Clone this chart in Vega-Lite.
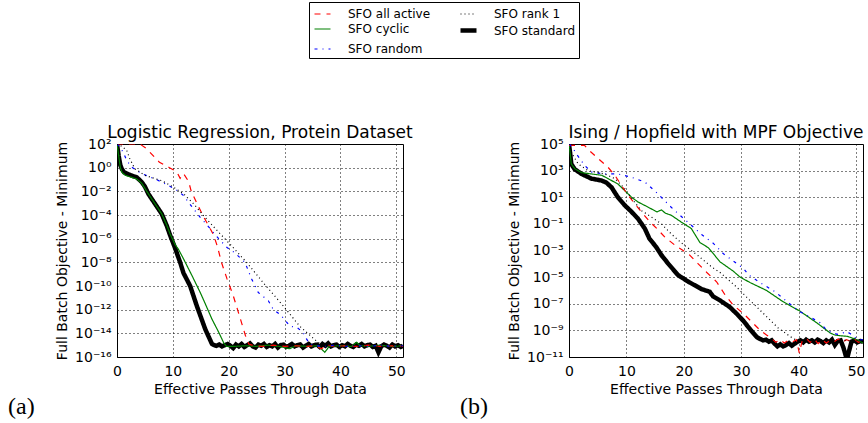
{
  "$schema": "https://vega.github.io/schema/vega-lite/v6.json",
  "padding": {"left": 8, "top": 1, "right": 2, "bottom": 2},
  "background": "white",
  "config": {
    "font": "DejaVu Sans",
    "view": {"stroke": "black", "strokeWidth": 1},
    "axis": {"grid": true, "gridColor": "black", "gridDash": [1, 3], "gridOpacity": 1, "gridWidth": 1, "domain": false, "ticks": false, "labelColor": "black", "labelFontSize": 14, "labelFont": "DejaVu Sans", "titleColor": "black", "titleFontSize": 14, "titleFontWeight": "normal", "titleFont": "DejaVu Sans", "labelFlush": false, "labelOverlap": false},
    "axisX": {"labelPadding": 7, "titlePadding": 4},
    "axisY": {"labelPadding": 6, "titlePadding": 5},
    "title": {"font": "DejaVu Sans", "fontSize": 17, "fontWeight": "normal", "color": "black"},
    "legend": {"orient": "none", "legendX": 192, "legendY": -142, "columns": 2, "symbolType": "stroke", "symbolSize": 256, "labelFontSize": 12, "labelFont": "DejaVu Sans", "labelColor": "black", "labelOffset": 15, "columnPadding": 20, "rowPadding": 0, "padding": 3, "strokeColor": "black", "fillColor": "white", "cornerRadius": 0, "labelLimit": 0}
  },
  "datasets": {
    "curves": [
      {"p":"a","s":"SFO standard","x":0,"y":100},{"p":"a","s":"SFO standard","x":0.3,"y":10},{"p":"a","s":"SFO standard","x":0.6,"y":1.58},{"p":"a","s":"SFO standard","x":0.9,"y":0.708},{"p":"a","s":"SFO standard","x":1.3,"y":0.398},{"p":"a","s":"SFO standard","x":2.0,"y":0.282},{"p":"a","s":"SFO standard","x":2.8,"y":0.2},{"p":"a","s":"SFO standard","x":3.5,"y":0.158},{"p":"a","s":"SFO standard","x":4.4,"y":0.0631},{"p":"a","s":"SFO standard","x":5.0,"y":0.0251},{"p":"a","s":"SFO standard","x":5.6,"y":0.00631},{"p":"a","s":"SFO standard","x":6.8,"y":8.91e-4},{"p":"a","s":"SFO standard","x":8.0,"y":1.26e-4},{"p":"a","s":"SFO standard","x":8.9,"y":1.26e-5},{"p":"a","s":"SFO standard","x":9.5,"y":2.0e-6},{"p":"a","s":"SFO standard","x":10.4,"y":1.58e-7},{"p":"a","s":"SFO standard","x":11.3,"y":1e-8},{"p":"a","s":"SFO standard","x":11.9,"y":1.26e-9},{"p":"a","s":"SFO standard","x":13.1,"y":1e-10},{"p":"a","s":"SFO standard","x":14.3,"y":2e-12},{"p":"a","s":"SFO standard","x":15.8,"y":2.24e-14},{"p":"a","s":"SFO standard","x":17.0,"y":1.26e-15},{"p":"a","s":"SFO standard","x":17.4,"y":1e-15},
      {"p":"a","s":"SFO standard","x":17.8,"y":8.91e-16},{"p":"a","s":"SFO standard","x":18.3,"y":1.12e-15},{"p":"a","s":"SFO standard","x":18.8,"y":7.94e-16},{"p":"a","s":"SFO standard","x":19.3,"y":1e-15},{"p":"a","s":"SFO standard","x":19.8,"y":1.26e-15},{"p":"a","s":"SFO standard","x":20.3,"y":8.91e-16},{"p":"a","s":"SFO standard","x":20.8,"y":5.62e-16},{"p":"a","s":"SFO standard","x":21.3,"y":1.12e-15},{"p":"a","s":"SFO standard","x":21.8,"y":7.94e-16},{"p":"a","s":"SFO standard","x":22.3,"y":1.26e-15},{"p":"a","s":"SFO standard","x":22.8,"y":7.08e-16},{"p":"a","s":"SFO standard","x":23.3,"y":1e-15},{"p":"a","s":"SFO standard","x":23.8,"y":1.41e-15},{"p":"a","s":"SFO standard","x":24.3,"y":7.94e-16},{"p":"a","s":"SFO standard","x":24.8,"y":6.31e-16},{"p":"a","s":"SFO standard","x":25.3,"y":1.12e-15},{"p":"a","s":"SFO standard","x":25.8,"y":8.91e-16},{"p":"a","s":"SFO standard","x":26.3,"y":1.26e-15},{"p":"a","s":"SFO standard","x":26.8,"y":7.08e-16},{"p":"a","s":"SFO standard","x":27.3,"y":1e-15},{"p":"a","s":"SFO standard","x":27.8,"y":7.94e-16},{"p":"a","s":"SFO standard","x":28.3,"y":1.26e-15},{"p":"a","s":"SFO standard","x":28.8,"y":6.31e-16},{"p":"a","s":"SFO standard","x":29.3,"y":1e-15},{"p":"a","s":"SFO standard","x":29.8,"y":1.12e-15},{"p":"a","s":"SFO standard","x":30.3,"y":7.08e-16},{"p":"a","s":"SFO standard","x":30.8,"y":8.91e-16},{"p":"a","s":"SFO standard","x":31.3,"y":1.26e-15},{"p":"a","s":"SFO standard","x":31.8,"y":7.94e-16},{"p":"a","s":"SFO standard","x":32.3,"y":1e-15},{"p":"a","s":"SFO standard","x":32.8,"y":1.12e-15},{"p":"a","s":"SFO standard","x":33.3,"y":6.31e-16},{"p":"a","s":"SFO standard","x":33.8,"y":8.91e-16},{"p":"a","s":"SFO standard","x":34.3,"y":1.26e-15},{"p":"a","s":"SFO standard","x":34.8,"y":7.94e-16},{"p":"a","s":"SFO standard","x":35.3,"y":1e-15},{"p":"a","s":"SFO standard","x":35.8,"y":1.12e-15},{"p":"a","s":"SFO standard","x":36.3,"y":7.08e-16},{"p":"a","s":"SFO standard","x":36.8,"y":1.26e-15},{"p":"a","s":"SFO standard","x":37.3,"y":8.91e-16},{"p":"a","s":"SFO standard","x":37.8,"y":1.41e-15},{"p":"a","s":"SFO standard","x":38.3,"y":7.94e-16},{"p":"a","s":"SFO standard","x":38.8,"y":1e-15},{"p":"a","s":"SFO standard","x":39.3,"y":1.12e-15},{"p":"a","s":"SFO standard","x":39.8,"y":7.08e-16},{"p":"a","s":"SFO standard","x":40.3,"y":1e-15},{"p":"a","s":"SFO standard","x":40.8,"y":7.94e-16},{"p":"a","s":"SFO standard","x":41.3,"y":1.26e-15},{"p":"a","s":"SFO standard","x":41.8,"y":8.91e-16},{"p":"a","s":"SFO standard","x":42.3,"y":7.08e-16},{"p":"a","s":"SFO standard","x":42.8,"y":1.12e-15},{"p":"a","s":"SFO standard","x":43.3,"y":8.91e-16},{"p":"a","s":"SFO standard","x":43.8,"y":1.26e-15},{"p":"a","s":"SFO standard","x":44.3,"y":7.94e-16},{"p":"a","s":"SFO standard","x":44.8,"y":1e-15},{"p":"a","s":"SFO standard","x":45.3,"y":1.12e-15},{"p":"a","s":"SFO standard","x":45.8,"y":7.08e-16},{"p":"a","s":"SFO standard","x":46.3,"y":8.91e-16},{"p":"a","s":"SFO standard","x":46.8,"y":2.51e-16},{"p":"a","s":"SFO standard","x":47.3,"y":7.94e-16},{"p":"a","s":"SFO standard","x":47.8,"y":1.12e-15},{"p":"a","s":"SFO standard","x":48.3,"y":8.91e-16},{"p":"a","s":"SFO standard","x":48.8,"y":6.31e-16},{"p":"a","s":"SFO standard","x":49.3,"y":1.12e-15},{"p":"a","s":"SFO standard","x":49.8,"y":7.94e-16},{"p":"a","s":"SFO standard","x":50.3,"y":1e-15},{"p":"a","s":"SFO standard","x":50.8,"y":7.08e-16},{"p":"a","s":"SFO standard","x":51.2,"y":8.91e-16},

      {"p":"a","s":"SFO cyclic","x":0,"y":100},{"p":"a","s":"SFO cyclic","x":0.3,"y":10},{"p":"a","s":"SFO cyclic","x":0.6,"y":1},{"p":"a","s":"SFO cyclic","x":0.9,"y":0.398},{"p":"a","s":"SFO cyclic","x":1.5,"y":0.224},{"p":"a","s":"SFO cyclic","x":2.5,"y":0.158},{"p":"a","s":"SFO cyclic","x":3.5,"y":0.112},{"p":"a","s":"SFO cyclic","x":4.4,"y":0.0501},{"p":"a","s":"SFO cyclic","x":5.6,"y":0.00631},{"p":"a","s":"SFO cyclic","x":6.8,"y":8.91e-4},{"p":"a","s":"SFO cyclic","x":8.0,"y":1.26e-4},{"p":"a","s":"SFO cyclic","x":8.9,"y":1.41e-5},{"p":"a","s":"SFO cyclic","x":9.5,"y":2.51e-6},{"p":"a","s":"SFO cyclic","x":10.4,"y":3.16e-7},{"p":"a","s":"SFO cyclic","x":11.0,"y":1.26e-7},{"p":"a","s":"SFO cyclic","x":11.9,"y":2.0e-8},{"p":"a","s":"SFO cyclic","x":13.4,"y":7.94e-10},{"p":"a","s":"SFO cyclic","x":14.9,"y":2.82e-11},{"p":"a","s":"SFO cyclic","x":15.8,"y":3.16e-12},{"p":"a","s":"SFO cyclic","x":17.0,"y":1.58e-13},{"p":"a","s":"SFO cyclic","x":18.2,"y":1.26e-14},{"p":"a","s":"SFO cyclic","x":19.1,"y":1.58e-15},{"p":"a","s":"SFO cyclic","x":19.6,"y":7.94e-16},{"p":"a","s":"SFO cyclic","x":21,"y":7.94e-16},{"p":"a","s":"SFO cyclic","x":23,"y":8.91e-16},{"p":"a","s":"SFO cyclic","x":25,"y":7.94e-16},{"p":"a","s":"SFO cyclic","x":27,"y":1e-15},{"p":"a","s":"SFO cyclic","x":29,"y":7.94e-16},{"p":"a","s":"SFO cyclic","x":30.9,"y":5.01e-16},{"p":"a","s":"SFO cyclic","x":32,"y":8.91e-16},{"p":"a","s":"SFO cyclic","x":34,"y":7.94e-16},{"p":"a","s":"SFO cyclic","x":36,"y":8.91e-16},{"p":"a","s":"SFO cyclic","x":37.2,"y":2.51e-16},{"p":"a","s":"SFO cyclic","x":38,"y":7.94e-16},{"p":"a","s":"SFO cyclic","x":40,"y":8.91e-16},{"p":"a","s":"SFO cyclic","x":42,"y":7.94e-16},{"p":"a","s":"SFO cyclic","x":42.9,"y":1.78e-15},{"p":"a","s":"SFO cyclic","x":43.5,"y":8.91e-16},{"p":"a","s":"SFO cyclic","x":45,"y":7.94e-16},{"p":"a","s":"SFO cyclic","x":47,"y":1e-15},{"p":"a","s":"SFO cyclic","x":49,"y":7.94e-16},{"p":"a","s":"SFO cyclic","x":51.2,"y":8.91e-16},

      {"p":"a","s":"SFO all active","x":0,"y":100},{"p":"a","s":"SFO all active","x":4.1,"y":100},{"p":"a","s":"SFO all active","x":5.3,"y":39.8},{"p":"a","s":"SFO all active","x":7.6,"y":2.82},{"p":"a","s":"SFO all active","x":9.4,"y":1},{"p":"a","s":"SFO all active","x":10.7,"y":0.447},{"p":"a","s":"SFO all active","x":11.3,"y":0.126},{"p":"a","s":"SFO all active","x":11.9,"y":0.316},{"p":"a","s":"SFO all active","x":12.8,"y":0.0708},{"p":"a","s":"SFO all active","x":13.3,"y":0.01},{"p":"a","s":"SFO all active","x":14.5,"y":6.31e-4},{"p":"a","s":"SFO all active","x":15.5,"y":7.08e-5},{"p":"a","s":"SFO all active","x":16.5,"y":1e-5},{"p":"a","s":"SFO all active","x":17.3,"y":2e-6},{"p":"a","s":"SFO all active","x":18.0,"y":2e-7},{"p":"a","s":"SFO all active","x":18.7,"y":1e-8},{"p":"a","s":"SFO all active","x":19.7,"y":3.98e-10},{"p":"a","s":"SFO all active","x":20.8,"y":1.58e-11},{"p":"a","s":"SFO all active","x":22.1,"y":1.58e-13},{"p":"a","s":"SFO all active","x":23.0,"y":6.31e-15},{"p":"a","s":"SFO all active","x":23.6,"y":1.26e-15},{"p":"a","s":"SFO all active","x":24.5,"y":8.91e-16},{"p":"a","s":"SFO all active","x":26,"y":7.94e-16},{"p":"a","s":"SFO all active","x":28,"y":1e-15},{"p":"a","s":"SFO all active","x":30,"y":7.94e-16},{"p":"a","s":"SFO all active","x":32,"y":8.91e-16},{"p":"a","s":"SFO all active","x":34,"y":7.94e-16},{"p":"a","s":"SFO all active","x":35.5,"y":8.91e-16},{"p":"a","s":"SFO all active","x":36.6,"y":5.01e-16},{"p":"a","s":"SFO all active","x":37.5,"y":1e-15},{"p":"a","s":"SFO all active","x":39,"y":7.94e-16},{"p":"a","s":"SFO all active","x":41,"y":8.91e-16},{"p":"a","s":"SFO all active","x":43,"y":7.94e-16},{"p":"a","s":"SFO all active","x":45,"y":1e-15},{"p":"a","s":"SFO all active","x":47,"y":7.94e-16},{"p":"a","s":"SFO all active","x":49,"y":8.91e-16},{"p":"a","s":"SFO all active","x":51.2,"y":7.94e-16},

      {"p":"a","s":"SFO random","x":0,"y":100},{"p":"a","s":"SFO random","x":0.6,"y":50.1},{"p":"a","s":"SFO random","x":1.1,"y":20},{"p":"a","s":"SFO random","x":1.75,"y":3.98},{"p":"a","s":"SFO random","x":2.6,"y":1.12},{"p":"a","s":"SFO random","x":4.4,"y":0.316},{"p":"a","s":"SFO random","x":6.8,"y":0.112},{"p":"a","s":"SFO random","x":8.6,"y":0.0447},{"p":"a","s":"SFO random","x":10.7,"y":0.0126},{"p":"a","s":"SFO random","x":11.9,"y":0.00447},{"p":"a","s":"SFO random","x":13.4,"y":5.01e-4},{"p":"a","s":"SFO random","x":14.9,"y":6.31e-5},{"p":"a","s":"SFO random","x":16.4,"y":1e-5},{"p":"a","s":"SFO random","x":18.2,"y":1e-6},{"p":"a","s":"SFO random","x":19.7,"y":1.78e-7},{"p":"a","s":"SFO random","x":21.1,"y":6.31e-8},{"p":"a","s":"SFO random","x":22.9,"y":1e-8},{"p":"a","s":"SFO random","x":24.1,"y":3.98e-10},{"p":"a","s":"SFO random","x":25.3,"y":2.82e-11},{"p":"a","s":"SFO random","x":27.1,"y":5.62e-12},{"p":"a","s":"SFO random","x":28.0,"y":1e-12},{"p":"a","s":"SFO random","x":29.2,"y":3.98e-13},{"p":"a","s":"SFO random","x":31.0,"y":3.98e-14},{"p":"a","s":"SFO random","x":32.2,"y":3.16e-14},{"p":"a","s":"SFO random","x":33.3,"y":1.26e-14},{"p":"a","s":"SFO random","x":33.9,"y":3.55e-15},{"p":"a","s":"SFO random","x":34.5,"y":1.26e-15},{"p":"a","s":"SFO random","x":35.5,"y":8.91e-16},{"p":"a","s":"SFO random","x":37,"y":7.94e-16},{"p":"a","s":"SFO random","x":39,"y":1e-15},{"p":"a","s":"SFO random","x":41,"y":7.94e-16},{"p":"a","s":"SFO random","x":43,"y":8.91e-16},{"p":"a","s":"SFO random","x":45,"y":7.94e-16},{"p":"a","s":"SFO random","x":47,"y":1e-15},{"p":"a","s":"SFO random","x":49,"y":7.94e-16},{"p":"a","s":"SFO random","x":51.2,"y":8.91e-16},

      {"p":"a","s":"SFO rank 1","x":0,"y":100},{"p":"a","s":"SFO rank 1","x":0.9,"y":63.1},{"p":"a","s":"SFO rank 1","x":1.75,"y":28.2},{"p":"a","s":"SFO rank 1","x":2.3,"y":5.62},{"p":"a","s":"SFO rank 1","x":3.2,"y":0.794},{"p":"a","s":"SFO rank 1","x":5.0,"y":0.224},{"p":"a","s":"SFO rank 1","x":8.0,"y":0.0794},{"p":"a","s":"SFO rank 1","x":10.1,"y":0.0224},{"p":"a","s":"SFO rank 1","x":11.9,"y":0.00631},{"p":"a","s":"SFO rank 1","x":13.7,"y":8.91e-4},{"p":"a","s":"SFO rank 1","x":15.5,"y":8.91e-5},{"p":"a","s":"SFO rank 1","x":17.6,"y":7.08e-6},{"p":"a","s":"SFO rank 1","x":19.9,"y":5.01e-7},{"p":"a","s":"SFO rank 1","x":23.2,"y":1e-8},{"p":"a","s":"SFO rank 1","x":26.5,"y":1.26e-10},{"p":"a","s":"SFO rank 1","x":29.8,"y":2e-12},{"p":"a","s":"SFO rank 1","x":32.7,"y":3.98e-14},{"p":"a","s":"SFO rank 1","x":35.7,"y":2.24e-15},{"p":"a","s":"SFO rank 1","x":36.7,"y":1e-15},{"p":"a","s":"SFO rank 1","x":38,"y":8.91e-16},{"p":"a","s":"SFO rank 1","x":40,"y":7.94e-16},{"p":"a","s":"SFO rank 1","x":42,"y":1e-15},{"p":"a","s":"SFO rank 1","x":44,"y":7.94e-16},{"p":"a","s":"SFO rank 1","x":46,"y":8.91e-16},{"p":"a","s":"SFO rank 1","x":48,"y":7.94e-16},{"p":"a","s":"SFO rank 1","x":50,"y":1e-15},{"p":"a","s":"SFO rank 1","x":51.2,"y":7.94e-16},

      {"p":"b","s":"SFO standard","x":0,"y":1e5},{"p":"b","s":"SFO standard","x":0.2,"y":2e4},{"p":"b","s":"SFO standard","x":0.4,"y":3160},{"p":"b","s":"SFO standard","x":1.0,"y":1260},{"p":"b","s":"SFO standard","x":2.2,"y":562},{"p":"b","s":"SFO standard","x":3.9,"y":251},{"p":"b","s":"SFO standard","x":5.7,"y":178},{"p":"b","s":"SFO standard","x":6.5,"y":126},{"p":"b","s":"SFO standard","x":7.4,"y":56.2},{"p":"b","s":"SFO standard","x":8.5,"y":10},{"p":"b","s":"SFO standard","x":9.7,"y":2.51},{"p":"b","s":"SFO standard","x":10.9,"y":0.794},{"p":"b","s":"SFO standard","x":12.0,"y":0.251},{"p":"b","s":"SFO standard","x":13.2,"y":0.0447},{"p":"b","s":"SFO standard","x":14.0,"y":0.00794},{"p":"b","s":"SFO standard","x":15.2,"y":0.00178},{"p":"b","s":"SFO standard","x":16.1,"y":4.47e-4},{"p":"b","s":"SFO standard","x":17.3,"y":1e-4},{"p":"b","s":"SFO standard","x":19.0,"y":1.41e-5},{"p":"b","s":"SFO standard","x":20.8,"y":4.47e-6},{"p":"b","s":"SFO standard","x":23.1,"y":1.26e-6},{"p":"b","s":"SFO standard","x":24.5,"y":7.94e-7},{"p":"b","s":"SFO standard","x":25.1,"y":3.55e-7},{"p":"b","s":"SFO standard","x":26.3,"y":1.78e-7},{"p":"b","s":"SFO standard","x":28.0,"y":5.62e-8},{"p":"b","s":"SFO standard","x":29.2,"y":1.78e-8},{"p":"b","s":"SFO standard","x":30.4,"y":5.01e-9},{"p":"b","s":"SFO standard","x":31.5,"y":1.26e-9},{"p":"b","s":"SFO standard","x":32.2,"y":5.62e-10},{"p":"b","s":"SFO standard","x":32.7,"y":3.16e-10},{"p":"b","s":"SFO standard","x":33.3,"y":2.24e-10},{"p":"b","s":"SFO standard","x":33.8,"y":1.78e-10},{"p":"b","s":"SFO standard","x":34.3,"y":2e-10},{"p":"b","s":"SFO standard","x":34.8,"y":1.41e-10},{"p":"b","s":"SFO standard","x":35.3,"y":1.78e-10},{"p":"b","s":"SFO standard","x":35.8,"y":1e-10},{"p":"b","s":"SFO standard","x":36.3,"y":6.31e-11},{"p":"b","s":"SFO standard","x":36.8,"y":8.91e-11},{"p":"b","s":"SFO standard","x":37.3,"y":6.31e-11},{"p":"b","s":"SFO standard","x":37.8,"y":7.94e-11},{"p":"b","s":"SFO standard","x":38.3,"y":1.12e-10},{"p":"b","s":"SFO standard","x":38.8,"y":7.08e-11},{"p":"b","s":"SFO standard","x":39.3,"y":1e-10},{"p":"b","s":"SFO standard","x":39.8,"y":1.41e-10},{"p":"b","s":"SFO standard","x":40.3,"y":1.78e-10},{"p":"b","s":"SFO standard","x":40.8,"y":1.26e-10},{"p":"b","s":"SFO standard","x":41.3,"y":2e-10},{"p":"b","s":"SFO standard","x":41.8,"y":1.41e-10},{"p":"b","s":"SFO standard","x":42.3,"y":1.78e-10},{"p":"b","s":"SFO standard","x":42.8,"y":1.26e-10},{"p":"b","s":"SFO standard","x":43.3,"y":2e-10},{"p":"b","s":"SFO standard","x":43.8,"y":1.58e-10},{"p":"b","s":"SFO standard","x":44.3,"y":1.12e-10},{"p":"b","s":"SFO standard","x":44.8,"y":1.78e-10},{"p":"b","s":"SFO standard","x":45.3,"y":1.26e-10},{"p":"b","s":"SFO standard","x":45.8,"y":2e-10},{"p":"b","s":"SFO standard","x":46.3,"y":7.94e-11},{"p":"b","s":"SFO standard","x":46.8,"y":1.58e-10},{"p":"b","s":"SFO standard","x":47.3,"y":1.78e-10},{"p":"b","s":"SFO standard","x":47.8,"y":5.01e-11},{"p":"b","s":"SFO standard","x":48.2,"y":1.26e-11},{"p":"b","s":"SFO standard","x":48.5,"y":1e-11},{"p":"b","s":"SFO standard","x":48.8,"y":3.16e-11},{"p":"b","s":"SFO standard","x":49.2,"y":1.41e-10},{"p":"b","s":"SFO standard","x":49.7,"y":1.78e-10},{"p":"b","s":"SFO standard","x":50.2,"y":1.26e-10},{"p":"b","s":"SFO standard","x":50.7,"y":1.58e-10},{"p":"b","s":"SFO standard","x":51.2,"y":1.41e-10},

      {"p":"b","s":"SFO cyclic","x":0,"y":1e5},{"p":"b","s":"SFO cyclic","x":0.2,"y":2e4},{"p":"b","s":"SFO cyclic","x":0.4,"y":3160},{"p":"b","s":"SFO cyclic","x":1.0,"y":1410},{"p":"b","s":"SFO cyclic","x":2.2,"y":708},{"p":"b","s":"SFO cyclic","x":3.9,"y":562},{"p":"b","s":"SFO cyclic","x":5.7,"y":447},{"p":"b","s":"SFO cyclic","x":6.8,"y":251},{"p":"b","s":"SFO cyclic","x":8.5,"y":100},{"p":"b","s":"SFO cyclic","x":9.7,"y":31.6},{"p":"b","s":"SFO cyclic","x":10.9,"y":10},{"p":"b","s":"SFO cyclic","x":12.0,"y":4.47},{"p":"b","s":"SFO cyclic","x":13.8,"y":1.78},{"p":"b","s":"SFO cyclic","x":15.3,"y":0.794},{"p":"b","s":"SFO cyclic","x":16.1,"y":1.12},{"p":"b","s":"SFO cyclic","x":16.8,"y":0.631},{"p":"b","s":"SFO cyclic","x":17.8,"y":0.447},{"p":"b","s":"SFO cyclic","x":19.5,"y":0.141},{"p":"b","s":"SFO cyclic","x":21.3,"y":0.0447},{"p":"b","s":"SFO cyclic","x":22.8,"y":0.00398},{"p":"b","s":"SFO cyclic","x":24.3,"y":0.00158},{"p":"b","s":"SFO cyclic","x":26.3,"y":1.41e-4},{"p":"b","s":"SFO cyclic","x":28.6,"y":2.82e-5},{"p":"b","s":"SFO cyclic","x":29.8,"y":1e-5},{"p":"b","s":"SFO cyclic","x":31.5,"y":3.98e-6},{"p":"b","s":"SFO cyclic","x":34.4,"y":1e-6},{"p":"b","s":"SFO cyclic","x":37.3,"y":1.41e-7},{"p":"b","s":"SFO cyclic","x":40.2,"y":2.82e-8},{"p":"b","s":"SFO cyclic","x":43.2,"y":3.55e-9},{"p":"b","s":"SFO cyclic","x":45.5,"y":6.31e-10},{"p":"b","s":"SFO cyclic","x":46.3,"y":4.47e-10},{"p":"b","s":"SFO cyclic","x":47.2,"y":3.98e-10},{"p":"b","s":"SFO cyclic","x":48.5,"y":3.55e-10},{"p":"b","s":"SFO cyclic","x":50.1,"y":2e-10},{"p":"b","s":"SFO cyclic","x":51.2,"y":1.12e-10},

      {"p":"b","s":"SFO all active","x":0,"y":7.94e4},{"p":"b","s":"SFO all active","x":2.7,"y":7.94e4},{"p":"b","s":"SFO all active","x":3.3,"y":3.98e4},{"p":"b","s":"SFO all active","x":5.1,"y":7940},{"p":"b","s":"SFO all active","x":6.8,"y":1780},{"p":"b","s":"SFO all active","x":8.0,"y":447},{"p":"b","s":"SFO all active","x":9.1,"y":79.4},{"p":"b","s":"SFO all active","x":10.3,"y":14.1},{"p":"b","s":"SFO all active","x":11.5,"y":3.16},{"p":"b","s":"SFO all active","x":12.6,"y":0.794},{"p":"b","s":"SFO all active","x":14.1,"y":0.141},{"p":"b","s":"SFO all active","x":15.3,"y":0.0447},{"p":"b","s":"SFO all active","x":16.7,"y":0.01},{"p":"b","s":"SFO all active","x":18.6,"y":0.00224},{"p":"b","s":"SFO all active","x":20.8,"y":5.62e-4},{"p":"b","s":"SFO all active","x":22.5,"y":1e-4},{"p":"b","s":"SFO all active","x":24.0,"y":2.24e-5},{"p":"b","s":"SFO all active","x":25.7,"y":4.47e-6},{"p":"b","s":"SFO all active","x":27.2,"y":4.47e-7},{"p":"b","s":"SFO all active","x":28.6,"y":7.94e-8},{"p":"b","s":"SFO all active","x":30.4,"y":1.78e-8},{"p":"b","s":"SFO all active","x":31.8,"y":4.47e-9},{"p":"b","s":"SFO all active","x":33.3,"y":1e-9},{"p":"b","s":"SFO all active","x":34.4,"y":4.47e-10},{"p":"b","s":"SFO all active","x":35.3,"y":2.51e-10},{"p":"b","s":"SFO all active","x":36.0,"y":1.26e-10},{"p":"b","s":"SFO all active","x":36.8,"y":2e-10},{"p":"b","s":"SFO all active","x":37.5,"y":1.12e-10},{"p":"b","s":"SFO all active","x":38.2,"y":1.78e-10},{"p":"b","s":"SFO all active","x":39.0,"y":1.41e-10},{"p":"b","s":"SFO all active","x":39.6,"y":2e-10},{"p":"b","s":"SFO all active","x":40.1,"y":2e-11},{"p":"b","s":"SFO all active","x":40.6,"y":1.58e-10},{"p":"b","s":"SFO all active","x":41.3,"y":2.51e-10},{"p":"b","s":"SFO all active","x":42.0,"y":1.26e-10},{"p":"b","s":"SFO all active","x":42.7,"y":2.24e-10},{"p":"b","s":"SFO all active","x":43.4,"y":1e-10},{"p":"b","s":"SFO all active","x":44.1,"y":2e-10},{"p":"b","s":"SFO all active","x":44.8,"y":1.12e-10},{"p":"b","s":"SFO all active","x":45.5,"y":1.78e-10},{"p":"b","s":"SFO all active","x":46.2,"y":1.41e-10},{"p":"b","s":"SFO all active","x":46.9,"y":2.24e-10},{"p":"b","s":"SFO all active","x":47.6,"y":1.26e-10},{"p":"b","s":"SFO all active","x":48.3,"y":2e-10},{"p":"b","s":"SFO all active","x":49.0,"y":1.58e-10},{"p":"b","s":"SFO all active","x":49.7,"y":2.24e-10},{"p":"b","s":"SFO all active","x":50.4,"y":1.26e-10},{"p":"b","s":"SFO all active","x":51.2,"y":1.78e-10},

      {"p":"b","s":"SFO random","x":0,"y":1e5},{"p":"b","s":"SFO random","x":0.5,"y":6.31e4},{"p":"b","s":"SFO random","x":1.3,"y":1.78e4},{"p":"b","s":"SFO random","x":2.7,"y":2510},{"p":"b","s":"SFO random","x":3.9,"y":794},{"p":"b","s":"SFO random","x":6.2,"y":562},{"p":"b","s":"SFO random","x":8.5,"y":562},{"p":"b","s":"SFO random","x":10.9,"y":316},{"p":"b","s":"SFO random","x":13.2,"y":141},{"p":"b","s":"SFO random","x":15.5,"y":17.8},{"p":"b","s":"SFO random","x":17.8,"y":1.78},{"p":"b","s":"SFO random","x":19.3,"y":0.447},{"p":"b","s":"SFO random","x":21.3,"y":0.0794},{"p":"b","s":"SFO random","x":23.1,"y":0.0158},{"p":"b","s":"SFO random","x":25.1,"y":0.00355},{"p":"b","s":"SFO random","x":26.9,"y":5.62e-4},{"p":"b","s":"SFO random","x":30.4,"y":4.47e-5},{"p":"b","s":"SFO random","x":31.3,"y":1.41e-5},{"p":"b","s":"SFO random","x":33.6,"y":3.16e-6},{"p":"b","s":"SFO random","x":35.9,"y":7.94e-7},{"p":"b","s":"SFO random","x":38.0,"y":1.41e-7},{"p":"b","s":"SFO random","x":40.0,"y":2.82e-8},{"p":"b","s":"SFO random","x":42.0,"y":1e-8},{"p":"b","s":"SFO random","x":43.8,"y":3.55e-9},{"p":"b","s":"SFO random","x":44.9,"y":1e-9},{"p":"b","s":"SFO random","x":46.7,"y":5.01e-10},{"p":"b","s":"SFO random","x":48.4,"y":7.94e-10},{"p":"b","s":"SFO random","x":49.0,"y":5.62e-10},{"p":"b","s":"SFO random","x":50.4,"y":1.78e-10},{"p":"b","s":"SFO random","x":51.2,"y":2e-10},

      {"p":"b","s":"SFO rank 1","x":0,"y":1e5},{"p":"b","s":"SFO rank 1","x":0.5,"y":2e4},{"p":"b","s":"SFO rank 1","x":1.6,"y":3160},{"p":"b","s":"SFO rank 1","x":3.3,"y":1000},{"p":"b","s":"SFO rank 1","x":6.2,"y":562},{"p":"b","s":"SFO rank 1","x":8.0,"y":251},{"p":"b","s":"SFO rank 1","x":9.7,"y":44.7},{"p":"b","s":"SFO rank 1","x":11.2,"y":5.62},{"p":"b","s":"SFO rank 1","x":12.6,"y":1},{"p":"b","s":"SFO rank 1","x":14.4,"y":0.316},{"p":"b","s":"SFO rank 1","x":16.1,"y":0.1},{"p":"b","s":"SFO rank 1","x":17.8,"y":0.0178},{"p":"b","s":"SFO rank 1","x":19.5,"y":0.00398},{"p":"b","s":"SFO rank 1","x":22.5,"y":3.98e-4},{"p":"b","s":"SFO rank 1","x":24.9,"y":5.62e-5},{"p":"b","s":"SFO rank 1","x":26.3,"y":2.24e-5},{"p":"b","s":"SFO rank 1","x":29.2,"y":1.78e-6},{"p":"b","s":"SFO rank 1","x":31.5,"y":1.78e-7},{"p":"b","s":"SFO rank 1","x":33.9,"y":1.78e-8},{"p":"b","s":"SFO rank 1","x":36.5,"y":1.41e-9},{"p":"b","s":"SFO rank 1","x":38.0,"y":5.01e-10},{"p":"b","s":"SFO rank 1","x":39.0,"y":2.51e-10},{"p":"b","s":"SFO rank 1","x":40.0,"y":1.58e-10},{"p":"b","s":"SFO rank 1","x":41.5,"y":2e-10},{"p":"b","s":"SFO rank 1","x":43.0,"y":1.41e-10},{"p":"b","s":"SFO rank 1","x":44.5,"y":1.78e-10},{"p":"b","s":"SFO rank 1","x":46.0,"y":1.26e-10},{"p":"b","s":"SFO rank 1","x":47.5,"y":2e-10},{"p":"b","s":"SFO rank 1","x":49.0,"y":1.58e-10},{"p":"b","s":"SFO rank 1","x":50.5,"y":1.78e-10},{"p":"b","s":"SFO rank 1","x":51.2,"y":1.58e-10}
    ]
  },
  "bounds": "flush",
  "spacing": 452,
  "hconcat": [
    {
      "bounds": "flush",
      "title": {"text": "(a)", "orient": "bottom", "anchor": "start", "frame": "group", "font": "Liberation Serif", "fontSize": 24, "fontWeight": "normal", "dx": -109, "offset": -2},
      "vconcat": [
        {
          "width": 286,
          "height": 213,
          "title": {"text": "Logistic Regression, Protein Dataset", "offset": -18, "baseline": "alphabetic"},
          "data": {"name": "curves"},
          "transform": [{"filter": "datum.p === 'a'"}],
          "mark": {"type": "line", "clip": true},
          "encoding": {
            "x": {"field": "x", "type": "quantitative", "scale": {"domain": [0, 51.2], "nice": false, "zero": false}, "axis": {"values": [0, 10, 20, 30, 40, 50], "title": "Effective Passes Through Data"}},
            "y": {"field": "y", "type": "quantitative", "scale": {"type": "log", "domain": [1e-16, 100], "nice": false}, "axis": {"values": [100, 1, 0.01, 1e-4, 1e-6, 1e-8, 1e-10, 1e-12, 1e-14, 1e-16], "title": "Full Batch Objective - Minimum", "labelExpr": "'10' + (datum.value < 1 ? '⁻' : '') + (abs(round(log(datum.value) / LN10)) >= 10 ? '¹' : '') + substring('⁰¹²³⁴⁵⁶⁷⁸⁹', abs(round(log(datum.value) / LN10)) % 10, abs(round(log(datum.value) / LN10)) % 10 + 1)"}},
            "color": {"field": "s", "type": "nominal", "scale": {"domain": ["SFO all active", "SFO cyclic", "SFO random", "SFO rank 1", "SFO standard"], "range": ["#ff0000", "#008000", "#0000ff", "#000000", "#000000"]}, "legend": {"title": null}},
            "strokeDash": {"field": "s", "type": "nominal", "scale": {"domain": ["SFO all active", "SFO cyclic", "SFO random", "SFO rank 1", "SFO standard"], "range": [[6, 6], [1, 0], [3, 5, 1, 5], [1, 3], [1, 0]]}, "legend": {"title": null}},
            "strokeWidth": {"field": "s", "type": "nominal", "scale": {"type": "ordinal", "domain": ["SFO all active", "SFO cyclic", "SFO random", "SFO rank 1", "SFO standard"], "range": [1.2, 1.2, 1.2, 1.2, 4.5]}, "legend": {"title": null}}
          }
        }
      ]
    },
    {
      "bounds": "flush",
      "title": {"text": "(b)", "orient": "bottom", "anchor": "start", "frame": "group", "font": "Liberation Serif", "fontSize": 24, "fontWeight": "normal", "dx": -109, "offset": -2},
      "vconcat": [
        {
          "width": 294,
          "height": 213,
          "title": {"text": "Ising / Hopfield with MPF Objective", "offset": -18, "baseline": "alphabetic"},
          "data": {"name": "curves"},
          "transform": [{"filter": "datum.p === 'b'"}],
          "mark": {"type": "line", "clip": true},
          "encoding": {
            "x": {"field": "x", "type": "quantitative", "scale": {"domain": [0, 51.2], "nice": false, "zero": false}, "axis": {"values": [0, 10, 20, 30, 40, 50], "title": "Effective Passes Through Data"}},
            "y": {"field": "y", "type": "quantitative", "scale": {"type": "log", "domain": [1e-11, 1e5], "nice": false}, "axis": {"values": [1e5, 1e3, 10, 0.1, 1e-3, 1e-5, 1e-7, 1e-9, 1e-11], "title": "Full Batch Objective - Minimum", "labelExpr": "'10' + (datum.value < 1 ? '⁻' : '') + (abs(round(log(datum.value) / LN10)) >= 10 ? '¹' : '') + substring('⁰¹²³⁴⁵⁶⁷⁸⁹', abs(round(log(datum.value) / LN10)) % 10, abs(round(log(datum.value) / LN10)) % 10 + 1)"}},
            "color": {"field": "s", "type": "nominal", "scale": {"domain": ["SFO all active", "SFO cyclic", "SFO random", "SFO rank 1", "SFO standard"], "range": ["#ff0000", "#008000", "#0000ff", "#000000", "#000000"]}, "legend": {"title": null}},
            "strokeDash": {"field": "s", "type": "nominal", "scale": {"domain": ["SFO all active", "SFO cyclic", "SFO random", "SFO rank 1", "SFO standard"], "range": [[6, 6], [1, 0], [3, 5, 1, 5], [1, 3], [1, 0]]}, "legend": {"title": null}},
            "strokeWidth": {"field": "s", "type": "nominal", "scale": {"type": "ordinal", "domain": ["SFO all active", "SFO cyclic", "SFO random", "SFO rank 1", "SFO standard"], "range": [1.2, 1.2, 1.2, 1.2, 4.5]}, "legend": {"title": null}}
          }
        }
      ]
    }
  ]
}
